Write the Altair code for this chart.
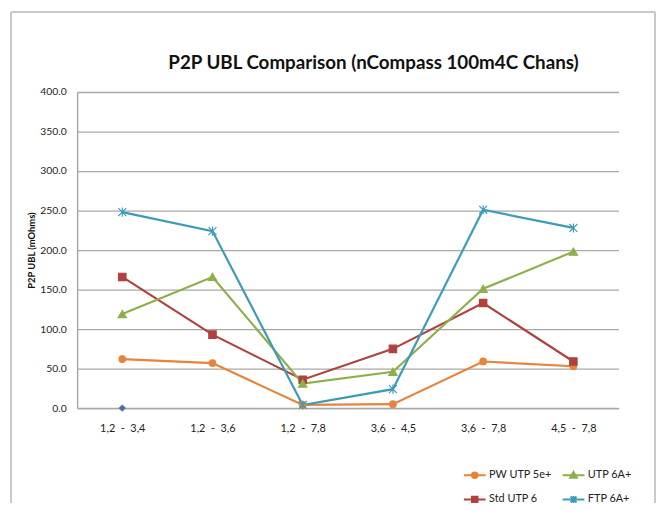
import altair as alt
import pandas as pd

NB = "\u00a0"
categories = [f"1,2{NB} -{NB} 3,4", f"1,2{NB} -{NB} 3,6", f"1,2{NB} -{NB} 7,8",
              f"3,6{NB} -{NB} 4,5", f"3,6{NB} -{NB} 7,8", f"4,5{NB} -{NB} 7,8"]
series_names = ["PW UTP 5e+", "Std UTP 6", "UTP 6A+", "FTP 6A+"]
pw_utp_5e = [62, 57, 4, 5, 59, 53]
std_utp_6 = [166, 93, 36, 75, 133, 59]
utp_6a = [119, 166, 31, 46, 151, 198]
ftp_6a = [248, 224, 4, 24, 251, 228]
extra_cats = [categories[0]]
extra_vals = [0.0]
y_ticks = [0, 50, 100, 150, 200, 250, 300, 350, 400]

colors = ["#E8833A", "#B0413E", "#8FAF4A", "#3D9BB8"]
shapes = ["circle", "square", "triangle-up", "M-1,-1L1,1M-1,1L1,-1M0,-1.15L0,1.15"]
sizes = [44, 56, 70, 64]
legend_shapes = [
    "M-2.75,0L2.75,0M0.7,0A0.7,0.7,0,1,1,-0.7,0A0.7,0.7,0,1,1,0.7,0Z",
    "M-2.75,0L2.75,0M-0.7,-0.7L0.7,-0.7L0.7,0.7L-0.7,0.7Z",
    "M-2.75,0L2.75,0M0,-0.85L0.85,0.6L-0.85,0.6Z",
    "M-2.75,0L2.75,0M-0.75,-0.75L0.75,0.75M-0.75,0.75L0.75,-0.75M0,-0.9L0,0.9",
]

rows = []
for name, vals in zip(series_names, [pw_utp_5e, std_utp_6, utp_6a, ftp_6a]):
    for c, v in zip(categories, vals):
        rows.append({"pair": c, "value": v, "series": name})
df = pd.DataFrame(rows)
extra = pd.DataFrame({"pair": extra_cats, "value": extra_vals})

FONT = "Lato"

x_enc = alt.X("pair:N", sort=categories, title=None,
              axis=alt.Axis(labelAngle=0, labelFont=FONT, labelFontSize=11, labelColor="#222",
                            labelPadding=15, ticks=False, domainColor="#a8a8a8", domainWidth=1.5, grid=False))
y_enc = alt.Y("value:Q", title="P2P UBL (mOhms)",
              scale=alt.Scale(domain=[0, 400], nice=False),
              axis=alt.Axis(values=y_ticks, format=".1f", labelFont=FONT, labelFontSize=10.5,
                            labelColor="#222", labelPadding=11, ticks=False,
                            domainColor="#a8a8a8", domainWidth=1.5,
                            gridColor="#a8a8a8", gridWidth=1.3,
                            titleFont=FONT, titleFontSize=9.5, titleFontWeight="bold",
                            titleColor="#111", titlePadding=3))

legend = alt.Legend(title=None, orient="none", legendX=397, legendY=382,
                    columns=2, padding=0, symbolSize=64, symbolStrokeWidth=2, symbolOpacity=1,
                    labelFont=FONT, labelFontSize=11, labelColor="#222",
                    labelOffset=9, rowPadding=9, columnPadding=6)

layers = []
for name, col, shp, sz in zip(series_names, colors, shapes, sizes):
    base = alt.Chart(df).transform_filter(alt.datum.series == name)
    layers.append(base.mark_line(strokeWidth=2.2, color=col).encode(x=x_enc, y=y_enc))
for name, col, shp, sz in zip(series_names, colors, shapes, sizes):
    base = alt.Chart(df).transform_filter(alt.datum.series == name)
    layers.append(base.mark_point(filled=True, shape=shp, size=sz, color=col, stroke=col,
                                  strokeWidth=1.2, opacity=1).encode(x=x_enc, y=y_enc))

proxy = alt.Chart(df).mark_point(filled=True, opacity=0).encode(
    x=x_enc, y=y_enc,
    color=alt.Color("series:N", scale=alt.Scale(domain=series_names, range=colors), legend=legend),
    stroke=alt.Stroke("series:N", scale=alt.Scale(domain=series_names, range=colors), legend=legend),
    shape=alt.Shape("series:N", scale=alt.Scale(domain=series_names, range=legend_shapes), legend=legend),
)

diamond = alt.Chart(extra).mark_point(filled=True, shape="diamond", size=55, color="#4A6FA5", opacity=1).encode(
    x=x_enc, y=y_enc,
)

border_col = "#c8c8c8"
frame_left = alt.Chart(extra).mark_rule(color=border_col, strokeWidth=2).encode(
    x=alt.value(-67), y=alt.value(-81), y2=alt.value(420))
frame_top = alt.Chart(extra).mark_rule(color=border_col, strokeWidth=2).encode(
    x=alt.value(-67), x2=alt.value(585), y=alt.value(-81))
frame_right = alt.Chart(extra).mark_rule(color=border_col, strokeWidth=2).encode(
    x=alt.value(585), y=alt.value(-81), y2=alt.value(420))

chart = alt.layer(frame_left, frame_top, frame_right, *layers, diamond, proxy).properties(
    width=548, height=320,
    padding={"left": 70, "top": 82, "right": 39, "bottom": 93},
    autosize=alt.AutoSizeParams(type="none"),
    title=alt.TitleParams("P2P UBL Comparison (nCompass 100m4C Chans)", font=FONT, fontSize=19,
                          fontWeight="bold", color="#111", anchor="middle", dx=26, offset=-63),
).configure_view(stroke="transparent")

chart.save("out.html", embed_options={"renderer": "svg", "actions": False})
